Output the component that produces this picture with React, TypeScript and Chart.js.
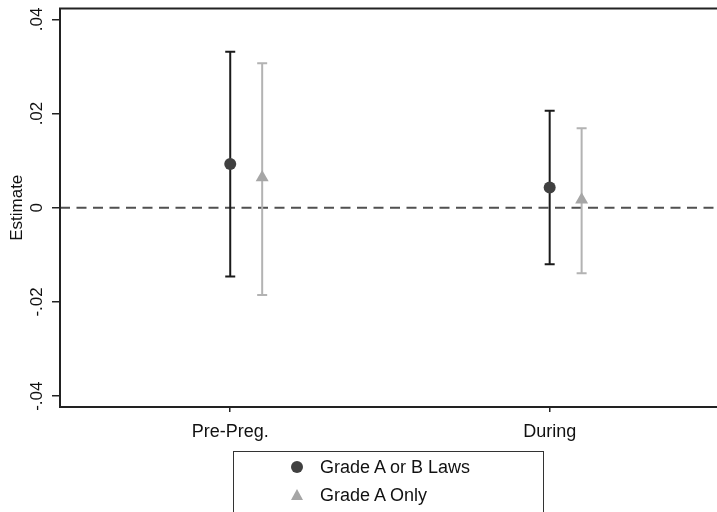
import React, { useEffect, useRef } from "react";
import { Chart, registerables } from "chart.js";

Chart.register(...registerables);

// ---- Data ----
const categories = ["Pre-Preg.", "During"];
const categoryX = [1, 2];
const seriesOffset = [0, 0.1];
const seriesNames = ["Grade A or B Laws", "Grade A Only"];
const gradeABEst = [0.0093, 0.0043];
const gradeABLow = [-0.0146, -0.012];
const gradeABHigh = [0.0331, 0.0206];
const gradeAEst = [0.0064, 0.0017];
const gradeALow = [-0.0185, -0.0139];
const gradeAHigh = [0.0307, 0.0169];
const yTickValues = [-0.04, -0.02, 0, 0.02, 0.04];
const yTickLabels = ["-.04", "-.02", "0", ".02", ".04"];

const FONT = "'Liberation Sans', Arial, sans-serif";
const DARK_MARK = "#404040";
const DARK_BAR = "#1a1a1a";
const LIGHT_MARK = "#a6a6a6";
const LIGHT_BAR = "#b3b3b3";

const errorBarPlugin = {
  id: "errorBars",
  beforeDatasetsDraw(chart: any) {
    const { ctx, chartArea, scales } = chart;
    const xs = scales.x;
    const ys = scales.y;
    // zero reference line
    ctx.save();
    ctx.strokeStyle = "#505050";
    ctx.lineWidth = 2;
    ctx.setLineDash([10, 6.5]);
    const y0 = ys.getPixelForValue(0);
    ctx.beginPath();
    ctx.moveTo(chartArea.left, y0);
    ctx.lineTo(chartArea.right, y0);
    ctx.stroke();
    ctx.restore();

    chart.data.datasets.forEach((ds: any) => {
      const low: number[] = ds.low;
      const high: number[] = ds.high;
      ctx.save();
      ctx.strokeStyle = ds.barColor;
      ctx.lineWidth = 2;
      ds.data.forEach((pt: any, i: number) => {
        const x = xs.getPixelForValue(pt.x);
        const yl = ys.getPixelForValue(low[i]);
        const yh = ys.getPixelForValue(high[i]);
        ctx.beginPath();
        ctx.moveTo(x, yl);
        ctx.lineTo(x, yh);
        ctx.moveTo(x - 5, yl);
        ctx.lineTo(x + 5, yl);
        ctx.moveTo(x - 5, yh);
        ctx.lineTo(x + 5, yh);
        ctx.stroke();
      });
      ctx.restore();
    });
  },
  afterDraw(chart: any) {
    const { ctx, chartArea } = chart;
    ctx.save();
    ctx.strokeStyle = "#222";
    ctx.lineWidth = 2;
    ctx.strokeRect(
      chartArea.left,
      chartArea.top,
      chartArea.right - chartArea.left,
      chartArea.bottom - chartArea.top
    );
    ctx.restore();
  },
};

export default function App() {
  const canvasRef = useRef<HTMLCanvasElement | null>(null);

  useEffect(() => {
    if (!canvasRef.current) return;
    const chart = new Chart(canvasRef.current, {
      type: "scatter",
      data: {
        datasets: [
          {
            label: seriesNames[0],
            data: categoryX.map((x, i) => ({ x: x + seriesOffset[0], y: gradeABEst[i] })),
            low: gradeABLow,
            high: gradeABHigh,
            barColor: DARK_BAR,
            pointStyle: "circle",
            pointRadius: 6,
            pointBackgroundColor: DARK_MARK,
            pointBorderColor: DARK_MARK,
            pointBorderWidth: 0,
          } as any,
          {
            label: seriesNames[1],
            data: categoryX.map((x, i) => ({ x: x + seriesOffset[1], y: gradeAEst[i] })),
            low: gradeALow,
            high: gradeAHigh,
            barColor: LIGHT_BAR,
            pointStyle: "triangle",
            pointRadius: 7.5,
            pointBackgroundColor: LIGHT_MARK,
            pointBorderColor: LIGHT_MARK,
            pointBorderWidth: 0,
          } as any,
        ],
      },
      options: {
        responsive: false,
        animation: false,
        devicePixelRatio: 1,
        layout: { padding: { top: 8.5, left: 0, right: 0, bottom: 65 } },
        plugins: {
          legend: { display: false },
          tooltip: { enabled: false },
        },
        scales: {
          x: {
            type: "linear",
            min: 0.4671,
            max: 2.541,
            afterBuildTicks: (scale: any) => {
              scale.ticks = categoryX.map((v) => ({ value: v }));
            },
            afterFit: (scale: any) => {
              scale.height = 40;
              scale.paddingLeft = 0;
              scale.paddingRight = 0;
            },
            ticks: {
              padding: 9,
              color: "#111",
              font: { family: FONT, size: 18 },
              callback: (v: any) => {
                const idx = categoryX.indexOf(Number(v));
                return idx >= 0 ? categories[idx] : "";
              },
            },
            grid: {
              drawOnChartArea: false,
              drawTicks: true,
              tickLength: 5,
              color: "#222",
              lineWidth: 1.5,
            },
            border: { display: false },
          },
          y: {
            type: "linear",
            min: -0.0423,
            max: 0.0423,
            afterBuildTicks: (scale: any) => {
              scale.ticks = yTickValues.map((v) => ({ value: v }));
            },
            afterFit: (scale: any) => {
              scale.width = 60;
              scale.paddingTop = 0;
              scale.paddingBottom = 0;
            },
            title: {
              display: true,
              text: "Estimate",
              color: "#111",
              font: { family: FONT, size: 17 },
              padding: { top: 7, bottom: 0 },
            },
            ticks: {
              minRotation: 90,
              maxRotation: 90,
              crossAlign: "center",
              padding: 0,
              color: "#111",
              font: { family: FONT, size: 17 },
              callback: (v: any) => {
                const idx = yTickValues.findIndex((t) => Math.abs(t - Number(v)) < 1e-9);
                return idx >= 0 ? yTickLabels[idx] : "";
              },
            },
            grid: {
              drawOnChartArea: false,
              drawTicks: true,
              tickLength: 8,
              color: "#222",
              lineWidth: 1.5,
            },
            border: { display: false },
          },
        },
      } as any,
      plugins: [errorBarPlugin],
    });
    return () => chart.destroy();
  }, []);

  const legendText: React.CSSProperties = {
    position: "absolute",
    left: 86,
    fontFamily: FONT,
    fontSize: 18,
    color: "#111",
    lineHeight: "20px",
    whiteSpace: "nowrap",
  };

  return (
    <div
      style={{
        position: "fixed",
        left: 0,
        top: 0,
        width: 717,
        height: 512,
        overflow: "hidden",
        background: "#fff",
      }}
    >
      <canvas ref={canvasRef} width={730} height={512} style={{ width: 730, height: 512, display: "block" }} />
      <div
        style={{
          position: "absolute",
          left: 233,
          top: 451,
          width: 311,
          height: 80,
          border: "1.5px solid #333",
          boxSizing: "border-box",
        }}
      >
        <div
          style={{
            position: "absolute",
            left: 57,
            top: 9,
            width: 12,
            height: 12,
            borderRadius: "50%",
            background: DARK_MARK,
          }}
        />
        <div style={{ ...legendText, top: 5 }}>{seriesNames[0]}</div>
        <div
          style={{
            position: "absolute",
            left: 57,
            top: 37,
            width: 0,
            height: 0,
            borderLeft: "6.5px solid transparent",
            borderRight: "6.5px solid transparent",
            borderBottom: "11px solid " + LIGHT_MARK,
          }}
        />
        <div style={{ ...legendText, top: 33 }}>{seriesNames[1]}</div>
      </div>
    </div>
  );
}
